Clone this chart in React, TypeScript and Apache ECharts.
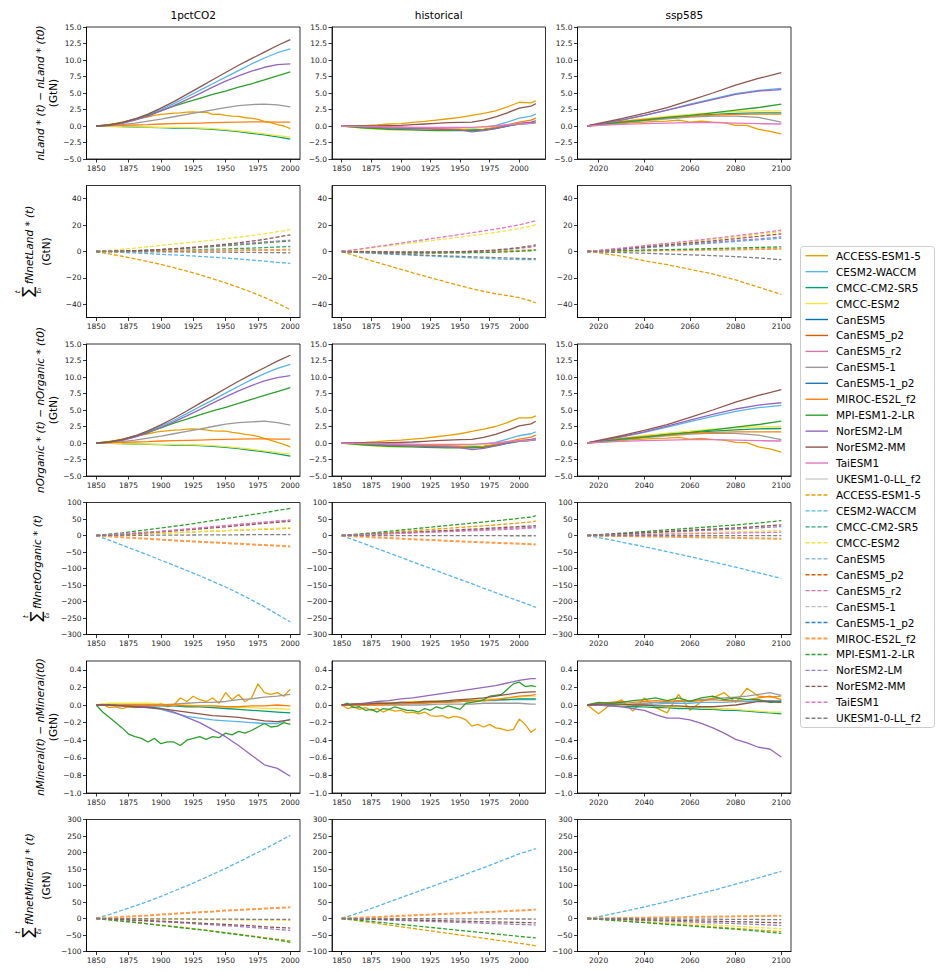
import React, { useEffect, useRef } from "react";
import * as echarts from "echarts";

// ---------------- models & colours ----------------
const MODELS = [
  "ACCESS-ESM1-5", "CESM2-WACCM", "CMCC-CM2-SR5", "CMCC-ESM2", "CanESM5", "CanESM5_p2",
  "CanESM5_r2", "CanESM5-1", "CanESM5-1_p2", "MIROC-ES2L_f2", "MPI-ESM1-2-LR", "NorESM2-LM",
  "NorESM2-MM", "TaiESM1", "UKESM1-0-LL_f2",
];
const SOLID_COLORS: Record<string, string> = {
  "ACCESS-ESM1-5": "#E69F00", "CESM2-WACCM": "#56B4E9", "CMCC-CM2-SR5": "#009E73", "CMCC-ESM2": "#F0E442",
  "CanESM5": "#0072B2", "CanESM5_p2": "#D55E00", "CanESM5_r2": "#CC79A7", "CanESM5-1": "#999999",
  "CanESM5-1_p2": "#1f77b4", "MIROC-ES2L_f2": "#ff7f0e", "MPI-ESM1-2-LR": "#2ca02c", "NorESM2-LM": "#9467bd",
  "NorESM2-MM": "#8c564b", "TaiESM1": "#e377c2", "UKESM1-0-LL_f2": "#cccccc",
};
const DASHED_COLORS: Record<string, string> = {
  "ACCESS-ESM1-5": "#E69F00", "CESM2-WACCM": "#56B4E9", "CMCC-CM2-SR5": "#2aa382", "CMCC-ESM2": "#F0E442",
  "CanESM5": "#8fbcd6", "CanESM5_p2": "#D55E00", "CanESM5_r2": "#CC79A7", "CanESM5-1": "#bbbbbb",
  "CanESM5-1_p2": "#2f7fc0", "MIROC-ES2L_f2": "#ff9a45", "MPI-ESM1-2-LR": "#2ca02c", "NorESM2-LM": "#9f80cc",
  "NorESM2-MM": "#8c564b", "TaiESM1": "#e377c2", "UKESM1-0-LL_f2": "#7f7f7f",
};

// ---------------- years / ticks ----------------
const YEARS_1PCT_10 = [1850, 1860, 1870, 1880, 1890, 1900, 1910, 1920, 1930, 1940, 1950, 1960, 1970, 1980, 1990, 2000];
const YEARS_1PCT_5 = [1850, 1855, 1860, 1865, 1870, 1875, 1880, 1885, 1890, 1895, 1900, 1905, 1910, 1915, 1920, 1925, 1930, 1935, 1940, 1945, 1950, 1955, 1960, 1965, 1970, 1975, 1980, 1985, 1990, 1995, 2000];
const YEARS_HIST_10 = [1850, 1860, 1870, 1880, 1890, 1900, 1910, 1920, 1930, 1940, 1950, 1960, 1970, 1980, 1990, 2000, 2010, 2014];
const YEARS_HIST_5 = [1850, 1855, 1860, 1865, 1870, 1875, 1880, 1885, 1890, 1895, 1900, 1905, 1910, 1915, 1920, 1925, 1930, 1935, 1940, 1945, 1950, 1955, 1960, 1965, 1970, 1975, 1980, 1985, 1990, 1995, 2000, 2005, 2010, 2014];
const YEARS_SSP_10 = [2015, 2020, 2030, 2040, 2050, 2060, 2070, 2080, 2090, 2100];
const YEARS_SSP_5 = [2015, 2020, 2025, 2030, 2035, 2040, 2045, 2050, 2055, 2060, 2065, 2070, 2075, 2080, 2085, 2090, 2095, 2100];

const X_TICKS_1PCT = [1850, 1875, 1900, 1925, 1950, 1975, 2000];
const X_TICKS_HIST = [1850, 1875, 1900, 1925, 1950, 1975, 2000];
const X_TICKS_SSP = [2020, 2040, 2060, 2080, 2100];

const Y_TICKS_STOCK = [-5, -2.5, 0, 2.5, 5, 7.5, 10, 12.5, 15];
const Y_TICKS_LAND_FLUX = [-40, -20, 0, 20, 40];
const Y_TICKS_ORG_FLUX = [-300, -250, -200, -150, -100, -50, 0, 50, 100];
const Y_TICKS_MINERAL = [-1.0, -0.8, -0.6, -0.4, -0.2, 0, 0.2, 0.4];
const Y_TICKS_MIN_FLUX = [-100, -50, 0, 50, 100, 150, 200, 250, 300];

const COL_TITLES = ["1pctCO2", "historical", "ssp585"];

type Line = [string, number[]];

// ---------------- row 1: nLand ----------------
const nLand_1pct: Line[] = [
  ["ACCESS-ESM1-5", [0, 0.1, 0.25, 0.4, 0.6, 0.8, 1.0, 1.2, 1.4, 1.6, 1.75, 1.85, 1.95, 2.0, 2.1, 2.15, 2.05, 2.1, 1.75, 1.8, 1.6, 1.5, 1.45, 1.25, 1.2, 1.0, 0.7, 0.5, 0.2, 0.0, -0.4]],
  ["CESM2-WACCM", [0, 0.1, 0.45, 1.0, 1.7, 2.5, 3.4, 4.4, 5.4, 6.4, 7.4, 8.4, 9.4, 10.3, 11.1, 11.7]],
  ["CMCC-CM2-SR5", [0, -0.05, -0.1, -0.15, -0.2, -0.25, -0.3, -0.33, -0.4, -0.5, -0.65, -0.85, -1.1, -1.35, -1.65, -2.0]],
  ["CMCC-ESM2", [0, -0.05, -0.1, -0.12, -0.15, -0.2, -0.22, -0.25, -0.3, -0.4, -0.55, -0.75, -0.95, -1.2, -1.45, -1.7]],
  ["CanESM5-1", [0, 0.05, 0.2, 0.45, 0.75, 1.05, 1.4, 1.75, 2.1, 2.45, 2.8, 3.1, 3.25, 3.3, 3.2, 2.9]],
  ["MIROC-ES2L_f2", [0, 0.05, 0.1, 0.15, 0.2, 0.3, 0.35, 0.4, 0.45, 0.5, 0.55, 0.6, 0.62, 0.62, 0.6, 0.6]],
  ["MPI-ESM1-2-LR", [0, 0.15, 0.5, 1.0, 1.6, 2.3, 3.0, 3.6, 4.2, 4.8, 5.3, 5.9, 6.4, 7.0, 7.6, 8.2]],
  ["NorESM2-LM", [0, 0.1, 0.4, 0.9, 1.5, 2.3, 3.1, 4.0, 4.9, 5.9, 6.8, 7.6, 8.3, 8.9, 9.3, 9.4]],
  ["NorESM2-MM", [0, 0.15, 0.5, 1.1, 1.8, 2.7, 3.7, 4.8, 5.9, 7.0, 8.1, 9.2, 10.2, 11.2, 12.2, 13.1]],
];
const nLand_hist: Line[] = [
  ["ACCESS-ESM1-5", [0, 0.05, 0.05, 0.15, 0.3, 0.35, 0.55, 0.7, 0.9, 1.1, 1.3, 1.6, 1.9, 2.3, 2.9, 3.6, 3.5, 3.8]],
  ["CESM2-WACCM", [0, -0.05, -0.1, -0.1, -0.15, -0.2, -0.2, -0.25, -0.3, -0.3, -0.3, -0.3, -0.2, 0.1, 0.6, 1.2, 1.5, 1.8]],
  ["CMCC-CM2-SR5", [0, -0.1, -0.2, -0.3, -0.4, -0.45, -0.5, -0.55, -0.6, -0.6, -0.6, -0.6, -0.5, -0.3, 0, 0.3, 0.4, 0.5]],
  ["CMCC-ESM2", [0, -0.2, -0.35, -0.5, -0.6, -0.6, -0.6, -0.55, -0.5, -0.45, -0.4, -0.3, -0.2, -0.1, 0.1, 0.3, 0.5, 0.6]],
  ["MIROC-ES2L_f2", [0, -0.05, -0.1, -0.15, -0.2, -0.25, -0.3, -0.35, -0.4, -0.45, -0.5, -0.7, -0.5, -0.2, 0.2, 0.6, 0.9, 1.2]],
  ["MPI-ESM1-2-LR", [0, -0.15, -0.3, -0.4, -0.5, -0.55, -0.6, -0.65, -0.7, -0.7, -0.7, -0.7, -0.6, -0.4, 0, 0.3, 0.5, 0.6]],
  ["NorESM2-LM", [0, -0.05, -0.1, -0.2, -0.3, -0.35, -0.4, -0.45, -0.5, -0.55, -0.6, -0.9, -0.7, -0.4, 0, 0.4, 0.6, 0.8]],
  ["NorESM2-MM", [0, 0, 0, 0, 0.05, 0.1, 0.2, 0.3, 0.4, 0.5, 0.55, 0.6, 0.9, 1.4, 2.0, 2.7, 3.0, 3.4]],
  ["TaiESM1", [0, -0.05, -0.1, -0.1, -0.15, -0.15, -0.2, -0.2, -0.2, -0.2, -0.2, -0.2, -0.1, 0, 0.2, 0.3, 0.4, 0.5]],
];
const nLand_ssp: Line[] = [
  ["ACCESS-ESM1-5", [0, 0.1, 0.25, 0.35, 0.5, 0.6, 0.7, 0.75, 0.9, 0.6, 0.75, 0.6, 0.5, 0.1, 0.1, -0.5, -0.8, -1.2]],
  ["CESM2-WACCM", [0, 0.3, 0.9, 1.6, 2.4, 3.3, 4.1, 4.9, 5.4, 5.7]],
  ["CMCC-CM2-SR5", [0, 0.2, 0.55, 0.9, 1.2, 1.5, 1.75, 1.9, 2.0, 2.0]],
  ["CMCC-ESM2", [0, 0.25, 0.7, 1.1, 1.45, 1.75, 2.0, 2.2, 2.3, 2.3]],
  ["CanESM5-1", [0, 0.2, 0.5, 0.8, 1.1, 1.35, 1.5, 1.5, 1.3, 0.6]],
  ["MIROC-ES2L_f2", [0, 0.3, 0.7, 1.0, 1.3, 1.5, 1.65, 1.75, 1.8, 1.8]],
  ["MPI-ESM1-2-LR", [0, 0.2, 0.6, 0.9, 1.3, 1.6, 2.0, 2.4, 2.8, 3.3]],
  ["NorESM2-LM", [0, 0.3, 0.9, 1.6, 2.4, 3.2, 4.0, 4.8, 5.3, 5.5]],
  ["NorESM2-MM", [0, 0.4, 1.1, 1.9, 2.8, 3.9, 5.0, 6.2, 7.2, 8.1]],
  ["TaiESM1", [0, 0.1, 0.25, 0.35, 0.45, 0.5, 0.5, 0.45, 0.35, 0.3]],
];

// ---------------- row 2: cumulative fNnetLand ----------------
const cumLand_1pct: Line[] = [
  ["ACCESS-ESM1-5", [0, -1.8, -3.6, -5.6, -7.6, -9.8, -12.2, -14.8, -17.6, -20.6, -23.8, -27.2, -30.8, -34.8, -39.2, -44]],
  ["CESM2-WACCM", [0, -0.3, -0.7, -1.1, -1.6, -2.1, -2.6, -3.1, -3.7, -4.3, -5.0, -5.7, -6.5, -7.3, -8.2, -9]],
  ["CMCC-CM2-SR5", [0, 0.05, 0.15, 0.3, 0.5, 0.7, 0.9, 1.1, 1.4, 1.7, 2.0, 2.3, 2.6, 3.0, 3.4, 3.8]],
  ["CMCC-ESM2", [0, 0.8, 1.7, 2.6, 3.6, 4.6, 5.6, 6.6, 7.6, 8.6, 9.7, 10.9, 12.1, 13.5, 15.0, 16.5]],
  ["MIROC-ES2L_f2", [0, 0.05, 0.1, 0.2, 0.3, 0.4, 0.5, 0.6, 0.7, 0.8, 0.9, 1.0, 1.1, 1.2, 1.2, 1.3]],
  ["MPI-ESM1-2-LR", [0, 0.1, 0.3, 0.6, 1.0, 1.4, 1.9, 2.5, 3.1, 3.7, 4.4, 5.1, 5.8, 6.6, 7.3, 8.0]],
  ["NorESM2-LM", [0, 0.1, 0.3, 0.6, 1.0, 1.5, 2.0, 2.6, 3.3, 4.0, 4.8, 5.6, 6.4, 7.2, 7.9, 8.6]],
  ["NorESM2-MM", [0, 0.1, 0.3, 0.6, 1.0, 1.5, 2.1, 2.8, 3.6, 4.5, 5.5, 6.6, 7.8, 9.2, 10.9, 12.6]],
  ["UKESM1-0-LL_f2", [0, -0.05, -0.1, -0.15, -0.2, -0.25, -0.3, -0.35, -0.4, -0.45, -0.5, -0.6, -0.7, -0.8, -0.9, -1.0]],
];
const cumLand_hist: Line[] = [
  ["ACCESS-ESM1-5", [0, -2.8, -5.6, -8.3, -10.9, -13.5, -16.1, -18.6, -21.1, -23.5, -25.9, -28.2, -30.3, -32.0, -33.4, -35.0, -37.5, -39.0]],
  ["CESM2-WACCM", [0, -0.5, -1.0, -1.5, -2.0, -2.4, -2.8, -3.2, -3.6, -4.0, -4.4, -4.8, -5.2, -5.6, -5.9, -6.1, -6.2, -6.2]],
  ["CMCC-ESM2", [0, 1.1, 2.2, 3.3, 4.4, 5.5, 6.6, 7.7, 8.8, 9.9, 11.0, 12.1, 13.2, 14.4, 15.8, 17.4, 19.3, 20.4]],
  ["MIROC-ES2L_f2", [0, -0.1, -0.2, -0.3, -0.4, -0.5, -0.6, -0.6, -0.6, -0.6, -0.5, -0.4, -0.2, 0, 0.3, 0.6, 1.0, 1.2]],
  ["MPI-ESM1-2-LR", [0, -0.3, -0.6, -0.8, -1.0, -1.1, -1.2, -1.2, -1.2, -1.1, -1.0, -0.9, -0.7, -0.5, -0.2, 0.2, 0.7, 1.0]],
  ["NorESM2-LM", [0, -0.1, -0.2, -0.3, -0.4, -0.5, -0.5, -0.5, -0.4, -0.3, -0.2, 0, 0.4, 0.9, 1.6, 2.4, 3.4, 4.0]],
  ["NorESM2-MM", [0, -0.1, -0.2, -0.3, -0.4, -0.5, -0.5, -0.5, -0.4, -0.3, -0.1, 0.2, 0.6, 1.2, 2.0, 3.0, 4.3, 5.0]],
  ["TaiESM1", [0, 1.2, 2.5, 3.8, 5.1, 6.4, 7.7, 9.0, 10.3, 11.6, 12.9, 14.2, 15.6, 17.0, 18.5, 20.2, 22.3, 23.4]],
  ["UKESM1-0-LL_f2", [0, -0.4, -0.8, -1.2, -1.6, -2.0, -2.4, -2.8, -3.1, -3.4, -3.7, -4.0, -4.3, -4.6, -4.9, -5.2, -5.4, -5.5]],
];
const cumLand_ssp: Line[] = [
  ["ACCESS-ESM1-5", [0, -1.0, -3.5, -7.0, -10.0, -13.5, -17.0, -21.5, -27.0, -32.5]],
  ["CESM2-WACCM", [0, 0.5, 1.6, 2.8, 4.0, 5.2, 6.4, 7.6, 8.8, 10.0]],
  ["CMCC-ESM2", [0, 0.8, 2.4, 4.1, 5.8, 7.5, 9.2, 11.0, 13.0, 15.0]],
  ["MIROC-ES2L_f2", [0, 0.1, 0.4, 0.7, 0.9, 1.1, 1.3, 1.5, 1.8, 2.0]],
  ["MPI-ESM1-2-LR", [0, 0.2, 0.6, 1.0, 1.4, 1.8, 2.2, 2.6, 3.1, 3.5]],
  ["NorESM2-LM", [0, 0.5, 1.8, 3.0, 4.3, 5.6, 7.0, 8.3, 9.6, 11.0]],
  ["NorESM2-MM", [0, 0.6, 2.0, 3.5, 5.0, 6.5, 8.0, 9.7, 11.5, 13.4]],
  ["TaiESM1", [0, 0.8, 2.6, 4.4, 6.2, 8.0, 9.9, 11.9, 14.0, 16.2]],
  ["UKESM1-0-LL_f2", [0, -0.3, -0.8, -1.3, -1.9, -2.5, -3.1, -3.9, -4.9, -6.2]],
];

// ---------------- row 3: nOrganic ----------------
const nOrg_1pct: Line[] = [
  ["ACCESS-ESM1-5", [0, 0.1, 0.25, 0.4, 0.6, 0.8, 1.0, 1.2, 1.4, 1.6, 1.75, 1.85, 1.95, 2.0, 2.1, 2.15, 2.05, 2.0, 1.85, 1.8, 1.8, 1.6, 1.5, 1.3, 1.2, 1.0, 0.7, 0.4, 0.1, -0.2, -0.6]],
  ["CESM2-WACCM", [0, 0.1, 0.45, 1.0, 1.7, 2.55, 3.45, 4.45, 5.5, 6.5, 7.55, 8.6, 9.6, 10.5, 11.3, 11.9]],
  ["CMCC-CM2-SR5", [0, -0.05, -0.1, -0.15, -0.2, -0.25, -0.3, -0.33, -0.4, -0.5, -0.65, -0.85, -1.1, -1.35, -1.65, -2.0]],
  ["CMCC-ESM2", [0, -0.05, -0.1, -0.12, -0.15, -0.2, -0.22, -0.25, -0.3, -0.4, -0.55, -0.75, -0.95, -1.2, -1.45, -1.7]],
  ["CanESM5-1", [0, 0.05, 0.2, 0.45, 0.75, 1.05, 1.4, 1.75, 2.1, 2.5, 2.85, 3.1, 3.2, 3.3, 3.1, 2.7]],
  ["MIROC-ES2L_f2", [0, 0.05, 0.1, 0.15, 0.2, 0.3, 0.35, 0.4, 0.45, 0.5, 0.55, 0.6, 0.62, 0.62, 0.6, 0.6]],
  ["MPI-ESM1-2-LR", [0, 0.15, 0.5, 1.0, 1.6, 2.3, 3.0, 3.6, 4.25, 4.85, 5.4, 6.0, 6.6, 7.2, 7.8, 8.4]],
  ["NorESM2-LM", [0, 0.1, 0.4, 0.9, 1.55, 2.35, 3.2, 4.1, 5.05, 6.05, 7.0, 7.9, 8.7, 9.4, 9.9, 10.2]],
  ["NorESM2-MM", [0, 0.15, 0.5, 1.1, 1.85, 2.75, 3.75, 4.85, 6.0, 7.1, 8.25, 9.35, 10.4, 11.4, 12.4, 13.3]],
];
const nOrg_hist: Line[] = [
  ["ACCESS-ESM1-5", [0, 0.05, 0.1, 0.2, 0.35, 0.45, 0.6, 0.75, 0.95, 1.15, 1.4, 1.75, 2.1, 2.5, 3.1, 3.8, 3.8, 4.1]],
  ["CESM2-WACCM", [0, -0.05, -0.1, -0.1, -0.15, -0.2, -0.2, -0.25, -0.3, -0.3, -0.3, -0.3, -0.2, 0.1, 0.6, 1.1, 1.4, 1.7]],
  ["CMCC-CM2-SR5", [0, -0.1, -0.2, -0.3, -0.4, -0.45, -0.5, -0.55, -0.6, -0.6, -0.6, -0.6, -0.5, -0.3, 0, 0.3, 0.4, 0.5]],
  ["CMCC-ESM2", [0, -0.2, -0.35, -0.5, -0.6, -0.6, -0.6, -0.55, -0.5, -0.45, -0.4, -0.3, -0.2, -0.1, 0.1, 0.3, 0.5, 0.6]],
  ["MIROC-ES2L_f2", [0, -0.05, -0.1, -0.15, -0.2, -0.25, -0.3, -0.35, -0.4, -0.45, -0.5, -0.7, -0.5, -0.2, 0.2, 0.6, 0.9, 1.2]],
  ["MPI-ESM1-2-LR", [0, -0.15, -0.3, -0.4, -0.5, -0.55, -0.6, -0.65, -0.7, -0.75, -0.75, -0.75, -0.65, -0.45, -0.05, 0.25, 0.4, 0.5]],
  ["NorESM2-LM", [0, -0.05, -0.1, -0.2, -0.3, -0.4, -0.45, -0.5, -0.55, -0.6, -0.7, -1.0, -0.8, -0.45, 0, 0.35, 0.55, 0.7]],
  ["NorESM2-MM", [0, 0, 0, 0, 0.05, 0.1, 0.15, 0.25, 0.35, 0.45, 0.5, 0.55, 0.85, 1.3, 1.9, 2.6, 2.9, 3.3]],
  ["TaiESM1", [0, -0.05, -0.1, -0.1, -0.15, -0.15, -0.2, -0.2, -0.2, -0.2, -0.2, -0.2, -0.1, 0, 0.2, 0.3, 0.4, 0.5]],
];
const nOrg_ssp: Line[] = [
  ["ACCESS-ESM1-5", [0, 0.1, 0.25, 0.35, 0.5, 0.6, 0.7, 0.75, 0.85, 0.6, 0.7, 0.55, 0.45, 0.1, 0.05, -0.6, -0.9, -1.4]],
  ["CESM2-WACCM", [0, 0.3, 0.9, 1.6, 2.4, 3.25, 4.05, 4.8, 5.35, 5.7]],
  ["CMCC-CM2-SR5", [0, 0.2, 0.55, 0.9, 1.25, 1.55, 1.8, 2.0, 2.15, 2.2]],
  ["CMCC-ESM2", [0, 0.25, 0.7, 1.15, 1.5, 1.8, 2.1, 2.3, 2.45, 2.5]],
  ["CanESM5-1", [0, 0.2, 0.5, 0.8, 1.1, 1.35, 1.5, 1.45, 1.2, 0.5]],
  ["MIROC-ES2L_f2", [0, 0.3, 0.7, 1.0, 1.25, 1.45, 1.6, 1.7, 1.7, 1.7]],
  ["MPI-ESM1-2-LR", [0, 0.2, 0.6, 0.9, 1.3, 1.6, 2.0, 2.4, 2.8, 3.3]],
  ["NorESM2-LM", [0, 0.3, 0.95, 1.7, 2.55, 3.45, 4.35, 5.15, 5.75, 6.1]],
  ["NorESM2-MM", [0, 0.4, 1.1, 1.9, 2.8, 3.9, 5.0, 6.2, 7.2, 8.1]],
  ["TaiESM1", [0, 0.1, 0.25, 0.35, 0.45, 0.5, 0.5, 0.45, 0.35, 0.3]],
];

// ---------------- row 4: cumulative fNnetOrganic ----------------
const cumOrg_1pct: Line[] = [
  ["ACCESS-ESM1-5", [0, 1.2, 2.5, 4, 5.5, 7, 8.5, 10, 11.5, 13, 14.5, 16, 17.5, 19, 20.5, 22]],
  ["CESM2-WACCM", [0, -14, -29, -44, -59, -75, -90, -106, -122, -139, -156, -175, -195, -216, -239, -262]],
  ["CMCC-ESM2", [0, 1.5, 3, 4.5, 6, 7.5, 9, 10.5, 12, 13.5, 15, 16.5, 18, 20, 22, 24]],
  ["MIROC-ES2L_f2", [0, -2.5, -5, -7.5, -10, -12.5, -15, -17, -19, -21, -23, -25, -27, -29, -31, -33]],
  ["MPI-ESM1-2-LR", [0, 4, 8, 13, 18, 23, 28, 33, 39, 45, 51, 57, 63, 69, 76, 82]],
  ["NorESM2-LM", [0, 2, 4, 7, 10, 13, 16, 19, 22, 26, 29, 33, 36, 40, 43, 46]],
  ["NorESM2-MM", [0, 1.5, 3.5, 6, 8.5, 11, 14, 17, 20, 23, 26, 30, 33, 37, 40, 43]],
  ["TaiESM1", [0, 2, 4.5, 7, 10, 13, 16, 19.5, 23, 26.5, 30, 33.5, 37, 40.5, 44, 47]],
  ["UKESM1-0-LL_f2", [0, 0.2, 0.4, 0.6, 0.8, 1, 1.2, 1.4, 1.6, 1.8, 2, 2.2, 2.4, 2.6, 2.8, 3]],
];
const cumOrg_hist: Line[] = [
  ["ACCESS-ESM1-5", [0, 2.2, 4.5, 7, 9.5, 12, 14.5, 17, 19.5, 22, 24.5, 27, 29.5, 32, 35, 38, 41, 44]],
  ["CESM2-WACCM", [0, -13, -26, -40, -53, -66, -80, -93, -106, -120, -133, -146, -160, -173, -186, -199, -212, -218]],
  ["MIROC-ES2L_f2", [0, -2, -4, -6, -7.8, -9.6, -11.4, -13, -14.6, -16.2, -17.8, -19.3, -20.8, -22.2, -23.6, -25, -26.3, -27]],
  ["MPI-ESM1-2-LR", [0, 3, 6, 9.5, 13, 16.5, 20, 23.5, 27, 30.5, 34, 37.5, 41, 44.5, 48, 52, 56, 60]],
  ["NorESM2-LM", [0, 1.4, 2.8, 4.3, 5.8, 7.3, 8.8, 10.3, 11.8, 13.3, 14.8, 16.3, 17.9, 19.5, 21.2, 23, 25, 26.5]],
  ["NorESM2-MM", [0, 1.5, 3, 4.8, 6.6, 8.4, 10.2, 12, 13.8, 15.6, 17.4, 19.2, 21, 23, 25, 27, 29, 30]],
  ["TaiESM1", [0, 1.2, 2.5, 3.8, 5.1, 6.4, 7.7, 9, 10.3, 11.6, 12.9, 14.2, 15.6, 17, 18.5, 20.2, 22.3, 23.4]],
  ["UKESM1-0-LL_f2", [0, -0.1, -0.2, -0.3, -0.3, -0.4, -0.4, -0.5, -0.5, -0.5, -0.6, -0.6, -0.6, -0.6, -0.7, -0.7, -0.7, -0.7]],
];
const cumOrg_ssp: Line[] = [
  ["CESM2-WACCM", [0, -6, -20, -34, -49, -64, -80, -96, -113, -130]],
  ["CMCC-ESM2", [0, 0.8, 2.5, 4.2, 6, 7.8, 9.6, 11.4, 13.2, 15]],
  ["MIROC-ES2L_f2", [0, -0.5, -1.6, -2.7, -3.8, -4.9, -6, -7.3, -8.6, -10]],
  ["MPI-ESM1-2-LR", [0, 2.5, 7, 12, 17, 22, 27, 32, 38, 45]],
  ["NorESM2-LM", [0, 1.5, 4.5, 7.5, 10.5, 13.5, 16.5, 19.5, 23, 27]],
  ["NorESM2-MM", [0, 1.8, 5.5, 9, 12.5, 16, 19.5, 23, 27.5, 32]],
  ["TaiESM1", [0, 0.5, 1.7, 2.9, 4, 5.2, 6.3, 7.5, 8.7, 10]],
  ["UKESM1-0-LL_f2", [0, 0, 0, 0, 0, -0.2, -0.3, -0.4, -0.5, -0.6]],
];

// ---------------- row 5: nMineral ----------------
const nMin_1pct: Line[] = [
  ["ACCESS-ESM1-5", [0, 0.01, -0.03, -0.02, -0.04, -0.02, -0.03, -0.02, 0.0, -0.01, 0.02, -0.02, 0.0, 0.08, 0.04, 0.1, 0.06, 0.04, 0.08, 0.02, 0.14, 0.06, 0.12, 0.04, 0.08, 0.24, 0.14, 0.12, 0.14, 0.1, 0.18]],
  ["CESM2-WACCM", [0, 0, -0.01, -0.02, -0.03, -0.05, -0.09, -0.13, -0.15, -0.17, -0.18, -0.19, -0.2, -0.21, -0.21, -0.16]],
  ["CMCC-CM2-SR5", [0, 0, 0, 0, -0.01, -0.01, -0.01, -0.02, -0.02, -0.03, -0.04, -0.05, -0.06, -0.07, -0.08, -0.09]],
  ["CMCC-ESM2", [0, 0.02, 0.02, 0.02, 0.02, 0.01, 0, 0, -0.01, -0.01, -0.02, -0.03, -0.03, -0.04, -0.04, -0.05]],
  ["CanESM5-1", [0, 0, 0, 0, 0, 0, 0.01, 0.02, 0.03, 0.03, 0.04, 0.06, 0.07, 0.09, 0.1, 0.12]],
  ["MIROC-ES2L_f2", [0, 0, 0, 0, 0, 0, 0, -0.01, -0.01, -0.01, -0.02, -0.02, -0.01, -0.01, 0, -0.01]],
  ["MPI-ESM1-2-LR", [0, -0.08, -0.14, -0.2, -0.26, -0.33, -0.36, -0.38, -0.42, -0.38, -0.44, -0.42, -0.42, -0.46, -0.40, -0.38, -0.36, -0.39, -0.36, -0.37, -0.32, -0.34, -0.30, -0.32, -0.29, -0.25, -0.21, -0.25, -0.24, -0.20, -0.22]],
  ["NorESM2-LM", [0, 0, -0.01, -0.02, -0.02, -0.04, -0.08, -0.14, -0.2, -0.28, -0.36, -0.46, -0.57, -0.68, -0.72, -0.81]],
  ["NorESM2-MM", [0, 0, -0.01, -0.02, -0.03, -0.04, -0.06, -0.08, -0.1, -0.12, -0.13, -0.14, -0.16, -0.18, -0.19, -0.17]],
];
const nMin_hist: Line[] = [
  ["ACCESS-ESM1-5", [0, -0.04, -0.02, -0.05, -0.03, -0.06, -0.04, -0.08, -0.05, -0.07, -0.06, -0.09, -0.08, -0.1, -0.08, -0.12, -0.13, -0.12, -0.15, -0.13, -0.14, -0.17, -0.24, -0.22, -0.25, -0.22, -0.26, -0.27, -0.29, -0.28, -0.16, -0.22, -0.31, -0.27]],
  ["CESM2-WACCM", [0, 0, 0.01, 0.01, 0.02, 0.02, 0.02, 0.03, 0.03, 0.04, 0.04, 0.05, 0.05, 0.05, 0.06, 0.06, 0.06, 0.06]],
  ["CMCC-CM2-SR5", [0, 0.01, 0.01, 0.02, 0.02, 0.03, 0.03, 0.03, 0.04, 0.04, 0.05, 0.05, 0.05, 0.06, 0.06, 0.07, 0.07, 0.07]],
  ["CMCC-ESM2", [0, 0.01, 0.02, 0.02, 0.03, 0.03, 0.04, 0.04, 0.05, 0.05, 0.06, 0.06, 0.07, 0.07, 0.08, 0.09, 0.1, 0.1]],
  ["CanESM5-1", [0, 0, 0, 0, 0, 0, 0, 0, 0.01, 0.01, 0.01, 0.01, 0.02, 0.02, 0.02, 0.02, 0.01, 0.01]],
  ["MIROC-ES2L_f2", [0, 0, 0, 0, 0.01, 0.01, 0.02, 0.02, 0.03, 0.03, 0.04, 0.05, 0.05, 0.06, 0.08, 0.1, 0.11, 0.12]],
  ["MPI-ESM1-2-LR", [0, 0.02, -0.03, -0.02, -0.06, -0.05, -0.08, -0.04, -0.05, -0.02, -0.04, -0.06, -0.06, -0.08, -0.04, -0.06, -0.02, -0.04, -0.01, -0.03, -0.05, 0.02, 0.03, 0.04, 0.06, 0.1, 0.11, 0.12, 0.18, 0.24, 0.26, 0.21, 0.22, 0.21]],
  ["NorESM2-LM", [0, 0.01, 0.02, 0.04, 0.05, 0.07, 0.08, 0.1, 0.12, 0.14, 0.16, 0.18, 0.2, 0.22, 0.25, 0.28, 0.3, 0.3]],
  ["NorESM2-MM", [0, 0.01, 0.01, 0.02, 0.02, 0.03, 0.03, 0.04, 0.04, 0.05, 0.06, 0.07, 0.08, 0.1, 0.12, 0.14, 0.15, 0.15]],
];
const nMin_ssp: Line[] = [
  ["ACCESS-ESM1-5", [0, -0.1, 0.0, 0.06, -0.07, 0.08, -0.03, -0.09, 0.12, -0.06, 0.04, 0.08, 0.14, 0.03, 0.19, 0.1, 0.09, 0.1]],
  ["CESM2-WACCM", [0, 0, 0, 0, 0.01, 0.01, 0.01, 0.02, 0.02, 0.02, 0.03, 0.03, 0.03, 0.04, 0.04, 0.05, 0.05, 0.05]],
  ["CMCC-CM2-SR5", [0, 0, -0.01, -0.01, -0.02, -0.02, -0.03, -0.03, -0.04, -0.04, -0.05, -0.05, -0.06, -0.06, -0.07, -0.08, -0.09, -0.1]],
  ["CMCC-ESM2", [0, 0.01, 0.01, 0, 0, -0.01, -0.01, -0.02, -0.02, -0.03, -0.03, -0.04, -0.04, -0.05, -0.06, -0.07, -0.08, -0.08]],
  ["CanESM5-1", [0, 0, 0.01, 0.01, 0.01, 0.02, 0.03, 0.03, 0.04, 0.05, 0.06, 0.07, 0.08, 0.09, 0.1, 0.12, 0.14, 0.11]],
  ["MIROC-ES2L_f2", [0, 0.02, 0.03, 0.04, 0.03, 0.04, 0.05, 0.04, 0.05, 0.04, 0.05, 0.06, 0.05, 0.05, 0.06, 0.08, 0.1, 0.06]],
  ["MPI-ESM1-2-LR", [0, 0.03, 0.02, 0.03, 0.05, 0.06, 0.08, 0.05, 0.08, 0.04, 0.08, 0.1, 0.06, 0.08, 0.06, 0.06, 0.03, 0.04]],
  ["NorESM2-LM", [0, 0, -0.01, -0.02, -0.04, -0.06, -0.11, -0.15, -0.15, -0.17, -0.21, -0.26, -0.32, -0.39, -0.43, -0.48, -0.5, -0.59]],
  ["NorESM2-MM", [0, 0.01, 0.01, 0.01, 0, 0, -0.01, -0.01, -0.01, -0.02, -0.02, -0.02, -0.01, 0, 0.02, 0.04, 0.04, 0.03]],
];

// ---------------- row 6: cumulative fNnetMineral ----------------
const cumMin_1pct: Line[] = [
  ["ACCESS-ESM1-5", [0, -4, -8, -12, -16, -20, -24, -28, -33, -38, -43, -48, -53, -58, -63, -68]],
  ["CESM2-WACCM", [0, 12, 25, 38, 52, 67, 83, 99, 116, 134, 152, 171, 191, 210, 231, 252]],
  ["CMCC-ESM2", [0, -0.4, -0.8, -1.2, -1.6, -2, -2.4, -2.8, -3.2, -3.6, -4, -4.4, -4.8, -5.2, -5.6, -6]],
  ["MIROC-ES2L_f2", [0, 2, 5, 7, 9, 12, 14, 17, 19, 21, 24, 26, 28, 30, 32, 34]],
  ["MPI-ESM1-2-LR", [0, -4, -8, -12, -16, -21, -25, -30, -34, -39, -44, -49, -54, -60, -65, -72]],
  ["NorESM2-LM", [0, -2, -4, -6, -8, -10, -12, -14, -17, -19, -22, -24, -27, -30, -33, -36]],
  ["NorESM2-MM", [0, -1.5, -3, -5, -6.5, -8, -10, -12, -14, -16, -18, -20, -22, -25, -27, -29]],
  ["UKESM1-0-LL_f2", [0, -0.2, -0.4, -0.6, -0.8, -1, -1.2, -1.4, -1.6, -1.8, -2, -2.2, -2.4, -2.6, -2.8, -3]],
];
const cumMin_hist: Line[] = [
  ["ACCESS-ESM1-5", [0, -5, -10, -15, -20, -25, -30, -35, -40, -45, -50, -55, -60, -65, -70, -75, -80, -83]],
  ["CESM2-WACCM", [0, 12, 24, 37, 50, 63, 76, 89, 102, 115, 128, 141, 154, 168, 182, 196, 207, 212]],
  ["MIROC-ES2L_f2", [0, 1.6, 3.2, 4.8, 6.4, 8, 9.6, 11.2, 12.8, 14.4, 16, 17.6, 19.2, 20.8, 22.4, 24.2, 26, 27]],
  ["MPI-ESM1-2-LR", [0, -3.6, -7.2, -10.8, -14.4, -18, -21.6, -25.2, -28.8, -32.4, -36, -39.6, -43.2, -46.8, -50.4, -54, -57.6, -59]],
  ["NorESM2-LM", [0, -1.2, -2.4, -3.6, -4.8, -6, -7.2, -8.4, -9.6, -10.8, -12, -13.2, -14.4, -15.6, -16.8, -18, -19.2, -19.8]],
  ["NorESM2-MM", [0, -0.8, -1.6, -2.4, -3.2, -4, -4.8, -5.6, -6.4, -7.2, -8, -8.8, -9.6, -10.4, -11.2, -12, -12.8, -13.2]],
  ["UKESM1-0-LL_f2", [0, -0.1, -0.2, -0.3, -0.4, -0.5, -0.6, -0.7, -0.8, -0.9, -1, -1.1, -1.2, -1.3, -1.4, -1.5, -1.6, -1.7]],
];
const cumMin_ssp: Line[] = [
  ["ACCESS-ESM1-5", [0, -2.2, -6.8, -11.4, -16, -20.6, -25.2, -30, -35, -40]],
  ["CESM2-WACCM", [0, 5, 20, 35, 51, 68, 85, 104, 123, 143]],
  ["CMCC-ESM2", [0, -1.7, -5.2, -8.8, -12.4, -16, -19.6, -23.4, -27.4, -31]],
  ["MIROC-ES2L_f2", [0, 0.5, 1.5, 2.5, 3.5, 4.5, 5.5, 6.5, 7.5, 8.5]],
  ["MPI-ESM1-2-LR", [0, -2.5, -7.5, -12.5, -17.5, -22.5, -27.5, -32.5, -38.5, -45]],
  ["NorESM2-LM", [0, -1.1, -3.4, -5.8, -8.2, -10.6, -13, -15.5, -18.2, -21]],
  ["NorESM2-MM", [0, -0.7, -2.2, -3.7, -5.2, -6.7, -8.2, -9.7, -11.3, -13]],
  ["UKESM1-0-LL_f2", [0, -0.2, -0.6, -1, -1.4, -1.8, -2.2, -2.6, -3, -3.4]],
];

// ---------------- layout config ----------------
const COLS = [
  { y10: YEARS_1PCT_10, y5: YEARS_1PCT_5, min: 1842.5, max: 2007.5, ticks: X_TICKS_1PCT },
  { y10: YEARS_HIST_10, y5: YEARS_HIST_5, min: 1841.8, max: 2022.2, ticks: X_TICKS_HIST },
  { y10: YEARS_SSP_10, y5: YEARS_SSP_5, min: 2010.75, max: 2104.25, ticks: X_TICKS_SSP },
];
const ROWS = [
  { min: -5, max: 15, ticks: Y_TICKS_STOCK, dec: 1, dashed: false, data: [nLand_1pct, nLand_hist, nLand_ssp],
    label: "nLand * (t) − nLand * (t0)", sigma: false, gtn: true },
  { min: -50, max: 50, ticks: Y_TICKS_LAND_FLUX, dec: 0, dashed: true, data: [cumLand_1pct, cumLand_hist, cumLand_ssp],
    label: "fNnetLand * (t)", sigma: true, gtn: true },
  { min: -5, max: 15, ticks: Y_TICKS_STOCK, dec: 1, dashed: false, data: [nOrg_1pct, nOrg_hist, nOrg_ssp],
    label: "nOrganic * (t) − nOrganic * (t0)", sigma: false, gtn: true },
  { min: -300, max: 100, ticks: Y_TICKS_ORG_FLUX, dec: 0, dashed: true, data: [cumOrg_1pct, cumOrg_hist, cumOrg_ssp],
    label: "fNnetOrganic * (t)", sigma: true, gtn: false },
  { min: -1, max: 0.5, ticks: Y_TICKS_MINERAL, dec: 1, dashed: false, data: [nMin_1pct, nMin_hist, nMin_ssp],
    label: "nMineral(t) − nMineral(t0)", sigma: false, gtn: true },
  { min: -100, max: 300, ticks: Y_TICKS_MIN_FLUX, dec: 0, dashed: true, data: [cumMin_1pct, cumMin_hist, cumMin_ssp],
    label: "fNnetMineral * (t)", sigma: true, gtn: true },
];

const GRID_LEFT = [86.5, 332, 577.5];
const GRID_W = 213.5;
const GRID_TOP = [27, 185.5, 344, 502.5, 661, 819.5];
const GRID_H = 132;
const FONT = "DejaVu Sans";

function fmt(v: number, dec: number) {
  const s = dec === 0 ? String(Math.round(v)) : v.toFixed(dec);
  return s.replace("-", "\u2212");
}

function measure(text: string, font: string) {
  const c = document.createElement("canvas").getContext("2d");
  if (!c) return text.length * 6;
  c.font = font;
  return c.measureText(text).width;
}

export default function App() {
  const ref = useRef<HTMLDivElement>(null);
  useEffect(() => {
    document.body.style.margin = "0";
    if (!ref.current) return;
    const chart = echarts.init(ref.current, null, { renderer: "svg" });

    const grids: any[] = [];
    const xAxes: any[] = [];
    const yAxes: any[] = [];
    const series: any[] = [];
    const graphics: any[] = [];

    ROWS.forEach((row, r) => {
      COLS.forEach((col, c) => {
        const idx = grids.length;
        grids.push({
          left: GRID_LEFT[c], top: GRID_TOP[r], width: GRID_W, height: GRID_H,
          show: true, borderColor: "#000", borderWidth: 0.8, backgroundColor: "#fff",
          containLabel: false, outerBoundsMode: "none",
        });
        xAxes.push({
          type: "value", gridIndex: idx, min: col.min, max: col.max,
          axisLine: { show: true, onZero: false, lineStyle: { color: "#000", width: 0.8 } },
          axisTick: { show: true, inside: false, length: 3.5, customValues: col.ticks, lineStyle: { color: "#000", width: 0.8 } },
          axisLabel: { show: true, customValues: col.ticks, fontSize: 7.5, fontFamily: FONT, color: "#222", margin: 5,
            formatter: (v: number) => String(v) },
          splitLine: { show: false },
        });
        yAxes.push({
          type: "value", gridIndex: idx, min: row.min, max: row.max,
          axisLine: { show: true, onZero: false, lineStyle: { color: "#000", width: 0.8 } },
          axisTick: { show: true, inside: false, length: 3.5, customValues: row.ticks, lineStyle: { color: "#000", width: 0.8 } },
          axisLabel: { show: true, customValues: row.ticks, fontSize: 7.5, fontFamily: FONT, color: "#222", margin: 5,
            formatter: (v: number) => fmt(v, row.dec) },
          splitLine: { show: false },
        });
        const lines = [...row.data[c]].sort((a, b) => MODELS.indexOf(a[0]) - MODELS.indexOf(b[0]));
        lines.forEach(([model, vals]) => {
          const years = vals.length === col.y5.length ? col.y5 : col.y10;
          const n = Math.min(years.length, vals.length);
          const data = [];
          for (let k = 0; k < n; k++) data.push([years[k], vals[k]]);
          const isMiroc = model === "MIROC-ES2L_f2";
          series.push({
            type: "line", name: model, xAxisIndex: idx, yAxisIndex: idx, data,
            symbol: "none", showSymbol: false, clip: true, silent: true,
            lineStyle: {
              color: row.dashed ? DASHED_COLORS[model] : SOLID_COLORS[model],
              width: row.dashed ? (isMiroc ? 2 : 1.3) : 1.3,
              type: row.dashed ? [4, 2] : "solid",
            },
          });
        });
      });

      // y-axis label
      const cy = GRID_TOP[r] + GRID_H / 2;
      const mainFont = `italic 10.5px "${FONT}"`;
      if (!row.sigma) {
        graphics.push({ type: "text", x: 40, y: cy, rotation: Math.PI / 2,
          style: { text: row.label, font: mainFont, fill: "#000", align: "center", verticalAlign: "middle" } });
        graphics.push({ type: "text", x: 52.5, y: cy, rotation: Math.PI / 2,
          style: { text: "(GtN)", font: `10.5px "${FONT}"`, fill: "#000", align: "center", verticalAlign: "middle" } });
      } else {
        const tw = measure(row.label, mainFont);
        const sigW = 11;
        const total = sigW + 2 + tw;
        const start = -total / 2;
        const L = row.gtn ? -8.5 : 0;
        const sx = start + sigW / 2;
        const children: any[] = [
          { type: "text", x: sx, y: L - 1, style: { text: "\u2211", font: `15px "${FONT}"`, fill: "#000", align: "center", verticalAlign: "middle" } },
          { type: "text", x: sx, y: L - 11.5, style: { text: "t", font: `italic 7px "${FONT}"`, fill: "#000", align: "center", verticalAlign: "middle" } },
          { type: "text", x: sx + 1, y: L + 9.5, style: { text: "t\u2080", font: `italic 7px "${FONT}"`, fill: "#000", align: "center", verticalAlign: "middle" } },
          { type: "text", x: start + sigW + 2, y: L, style: { text: row.label, font: mainFont, fill: "#000", align: "left", verticalAlign: "middle" } },
        ];
        if (row.gtn) {
          children.push({ type: "text", x: 0, y: 8.5, style: { text: "(GtN)", font: `10.5px "${FONT}"`, fill: "#000", align: "center", verticalAlign: "middle" } });
        }
        graphics.push({ type: "group", x: row.gtn ? 37.5 : 37, y: cy, rotation: Math.PI / 2, children });
      }
    });

    // column titles
    COL_TITLES.forEach((t, c) => {
      graphics.push({ type: "text", x: GRID_LEFT[c] + GRID_W / 2, y: 15,
        style: { text: t, font: `10.5px "${FONT}"`, fill: "#000", align: "center", verticalAlign: "middle" } });
    });

    // legend
    const LX = 800.5, LY = 246.5, LW = 134, LH = 481;
    graphics.push({ type: "rect", shape: { x: LX, y: LY, width: LW, height: LH, r: 3 },
      style: { fill: "#fff", stroke: "#cccccc", lineWidth: 1 } });
    const entries: [string, boolean][] = [
      ...MODELS.map((m) => [m, false] as [string, boolean]),
      ...MODELS.map((m) => [m, true] as [string, boolean]),
    ];
    entries.forEach(([m, dashed], i) => {
      const y = 255.7 + i * 15.95;
      graphics.push({ type: "line", shape: { x1: 805.5, y1: y, x2: 828, y2: y },
        style: { stroke: dashed ? DASHED_COLORS[m] : SOLID_COLORS[m],
          lineWidth: dashed && m === "MIROC-ES2L_f2" ? 2.2 : 1.4, lineDash: dashed ? [4, 2] : null } });
      graphics.push({ type: "text", x: 836, y,
        style: { text: m, font: `10.5px "${FONT}"`, fill: "#000", align: "left", verticalAlign: "middle" } });
    });

    chart.setOption({
      animation: false,
      backgroundColor: "#fff",
      grid: grids,
      xAxis: xAxes,
      yAxis: yAxes,
      series,
      graphic: graphics,
    });
    return () => chart.dispose();
  }, []);
  return <div ref={ref} style={{ width: 939, height: 973 }} />;
}
